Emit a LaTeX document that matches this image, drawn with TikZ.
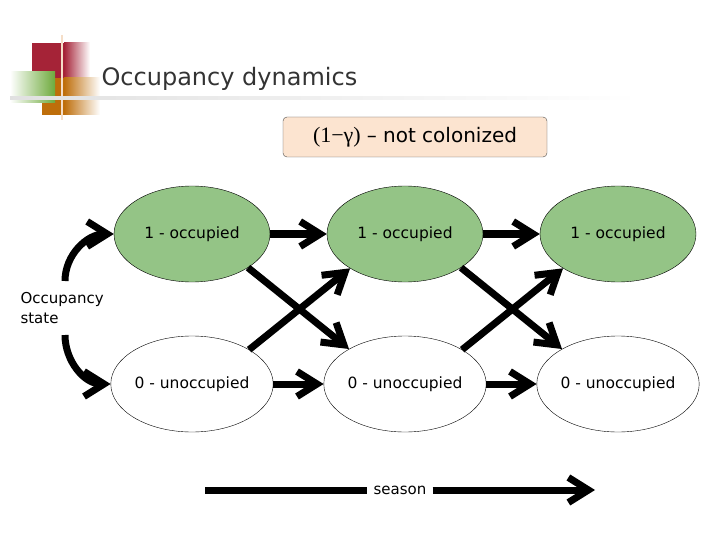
\documentclass[tikz,border=0pt]{standalone}
\usepackage{fontspec}
\setmainfont{DejaVu Sans}
\newfontfamily\timesfont{Liberation Serif}
\usetikzlibrary{shapes.geometric,arrows.meta}
\definecolor{occgreen}{RGB}{148,196,134}
\definecolor{boxpeach}{RGB}{252,228,208}
\definecolor{logored}{RGB}{165,35,55}
\definecolor{logoorange}{RGB}{190,110,10}
\definecolor{logogreen}{RGB}{110,170,60}
\definecolor{logoline}{RGB}{245,222,200}

\begin{document}
\begin{tikzpicture}[x=1pt,y=-1pt,>={Straight Barb[length=20pt,width=25pt]},node distance=213pt,
  main node/.style={ellipse,draw,thin,minimum width=156pt,minimum height=96pt,inner sep=0pt,font=\fontsize{15.5}{18}\selectfont},
  occ node/.style={main node,fill=occgreen},
  flow/.style={->,line width=7pt}]
\useasboundingbox (0,0) rectangle (720,540);

% logo
\fill[logored] (32,43) rectangle (64,78);
\shade[left color=logored,right color=white] (64,43) rectangle (90,78);
\fill[logoorange] (42,78) rectangle (64,115);
\shade[left color=logoorange,right color=white] (64,78) rectangle (100,115);
\shade[left color=white,right color=logogreen] (10,72) rectangle (55,103);
\draw[logoline,line width=2pt] (62,35) -- (62,120);
\shade[left color=black!12,right color=white] (10,97) rectangle (640,100);

\node[anchor=base west,font=\fontsize{24}{28}\selectfont,text=black!80] (title) at (98,86) {Occupancy dynamics};
\node[draw=black!70,fill=boxpeach,rounded corners=4pt,minimum width=264pt,minimum height=40pt] (gamma) at (415,137)
  {{\timesfont\fontsize{22}{24}\selectfont (1−γ)}\hspace{6pt}{\fontsize{20}{24}\selectfont – not colonized}};

% states
\node[occ node] (1) at (192,234) {1 - occupied};
\node[occ node] (2) [right of = 1] {1 - occupied};
\node[occ node] (3) [right of = 2] {1 - occupied};
\node[main node] (4) [below of = 1, node distance = 150pt] {0 - unoccupied};
\node[main node] (5) [right of = 4] {0 - unoccupied};
\node[main node] (6) [right of = 5] {0 - unoccupied};

\node[align=left,anchor=west,font=\fontsize{15}{20}\selectfont] (state) at (17,308) {Occupancy\\state};
\coordinate (up) at (65,281);
\coordinate (dn) at (65,335);

\path[flow]
    (1) edge (2)
    (2) edge (3)
    (4) edge (5)
    (5) edge (6)
    (1.-31) edge (5.148)
    (4.31) edge (2.-148)
    (2.-31) edge (6.148)
    (5.31) edge (3.-148)
    ;
\draw[flow] (up) to[out=90,in=180] (1.west);
\draw[flow] (dn) to[out=-90,in=180] (4.west);

% season axis
\node[font=\fontsize{15}{18}\selectfont,inner sep=6pt] (season) at (400,490) {season};
\coordinate (s0) at (205,490);
\coordinate (s1) at (595,490);
\draw[line width=7pt] (s0) -- (season.west);
\draw[flow] (season.east) -- (s1);
\end{tikzpicture}
\end{document}
